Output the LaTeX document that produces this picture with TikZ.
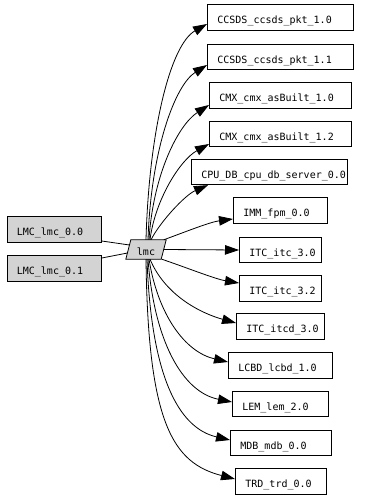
\documentclass[tikz,border=0pt]{standalone}
\usepackage{fontspec}
\setmonofont{DejaVu Sans Mono}
\usetikzlibrary{arrows.meta,backgrounds}
\definecolor{gvgray}{HTML}{D3D3D3}
\tikzset{
  lbl/.style={inner xsep=10pt, inner ysep=0pt, text height=12pt, text depth=0pt,
    minimum height=25.5pt, anchor=west, font=\ttfamily\fontsize{10pt}{12pt}\selectfont},
  rbox/.style={lbl, draw, line width=0.8pt},
  gbox/.style={rbox, fill=gvgray},
  edge/.style={line width=0.8pt},
  arr/.style={edge, -{Triangle[length=14pt,width=9.5pt]}}
}
\newcommand{\bx}[2]{\makebox[#1pt][l]{#2}}
\begin{document}
\begin{tikzpicture}[x=1pt,y=-1pt]
\useasboundingbox (0,0) rectangle (376,498);
% left nodes
\node[gbox] (l0) at (6.5,229.5) {\bx{74.5}{LMC\_lmc\_0.0}};
\node[gbox] (l1) at (6.5,268.5) {\bx{74.5}{LMC\_lmc\_0.1}};
% centre node
\node[lbl, anchor=center, inner xsep=0pt, minimum width=35pt, minimum height=19pt] (lmc) at (146,249.5) {lmc};
\begin{scope}[on background layer]
\fill[white] (0,0) rectangle (376,498);
\draw[fill=gvgray, line width=0.8pt] ([xshift=2.5pt]lmc.north west) -- ([xshift=2.5pt]lmc.north east)
  -- ([xshift=-2.5pt]lmc.south east) -- ([xshift=-2.5pt]lmc.south west) -- cycle;
\end{scope}
% right nodes
\node[rbox] (c1) at (207,17.5) {\bx{126}{CCSDS\_ccsds\_pkt\_1.0}};
\node[rbox] (c2) at (207,57) {\bx{126}{CCSDS\_ccsds\_pkt\_1.1}};
\node[rbox] (c3) at (209,95.5) {\bx{122}{CMX\_cmx\_asBuilt\_1.0}};
\node[rbox] (c4) at (209,134) {\bx{122}{CMX\_cmx\_asBuilt\_1.2}};
\node[rbox] (c5) at (191,172) {\bx{136}{CPU\_DB\_cpu\_db\_server\_0.0}};
\node[rbox] (c6) at (233,210.5) {\bx{74}{IMM\_fpm\_0.0}};
\node[rbox] (c7) at (239,250) {\bx{62}{ITC\_itc\_3.0}};
\node[rbox] (c8) at (239,288.5) {\bx{62}{ITC\_itc\_3.2}};
\node[rbox] (c9) at (236,326.5) {\bx{68}{ITC\_itcd\_3.0}};
\node[rbox] (c10) at (228,365.5) {\bx{84}{LCBD\_lcbd\_1.0}};
\node[rbox] (c11) at (232,404) {\bx{76}{LEM\_lem\_2.0}};
\node[rbox] (c12) at (230,443) {\bx{81}{MDB\_mdb\_0.0}};
\node[rbox] (c13) at (235,481.5) {\bx{71}{TRD\_trd\_0.0}};
% left edges
\draw[edge] ([yshift=-11.5pt]l0.east) -- ([xshift=-16.5pt,yshift=4.5pt]lmc.center);
\draw[edge] ([yshift=10.5pt]l1.east) -- ([xshift=-18.5pt,yshift=-3.5pt]lmc.center);
% upper edges
\draw[arr] (lmc.north) .. controls (149,132) and (170,45) .. ([yshift=-6.5pt]c1.west);
\draw[arr] ([xshift=2pt]lmc.north) .. controls (151,150) and (175,85) .. ([yshift=-8pt]c2.west);
\draw[arr] ([xshift=3pt]lmc.north) .. controls (153,175) and (178,125) .. ([yshift=-9.5pt]c3.west);
\draw[arr] ([xshift=4pt]lmc.north) .. controls (155,200) and (180,160) .. ([yshift=-10pt]c4.west);
\draw[arr] ([xshift=5pt]lmc.north) .. controls (160,222) and (185,195) .. ([xshift=17pt]c5.south west);
\draw[arr] (lmc.north east) .. controls (185,232) and (210,222) .. ([yshift=-8.5pt]c6.west);
\draw[arr] (lmc.east) -- (c7.west);
% lower edges
\draw[arr] ([xshift=-2pt]lmc.south east) .. controls (185,267) and (215,279) .. ([yshift=5.5pt]c8.west);
\draw[arr] ([xshift=4pt]lmc.south) .. controls (165,295) and (200,313) .. ([yshift=3.5pt]c9.west);
\draw[arr] ([xshift=3pt]lmc.south) .. controls (158,315) and (185,352) .. ([yshift=3.5pt]c10.west);
\draw[arr] ([xshift=2pt]lmc.south) .. controls (154,340) and (182,392) .. ([yshift=2pt]c11.west);
\draw[arr] ([xshift=1pt]lmc.south) .. controls (151,375) and (178,428) .. ([yshift=3pt]c12.west);
\draw[arr] (lmc.south) .. controls (148,424) and (173,463) .. ([yshift=2.5pt]c13.west);
\end{tikzpicture}
\end{document}
